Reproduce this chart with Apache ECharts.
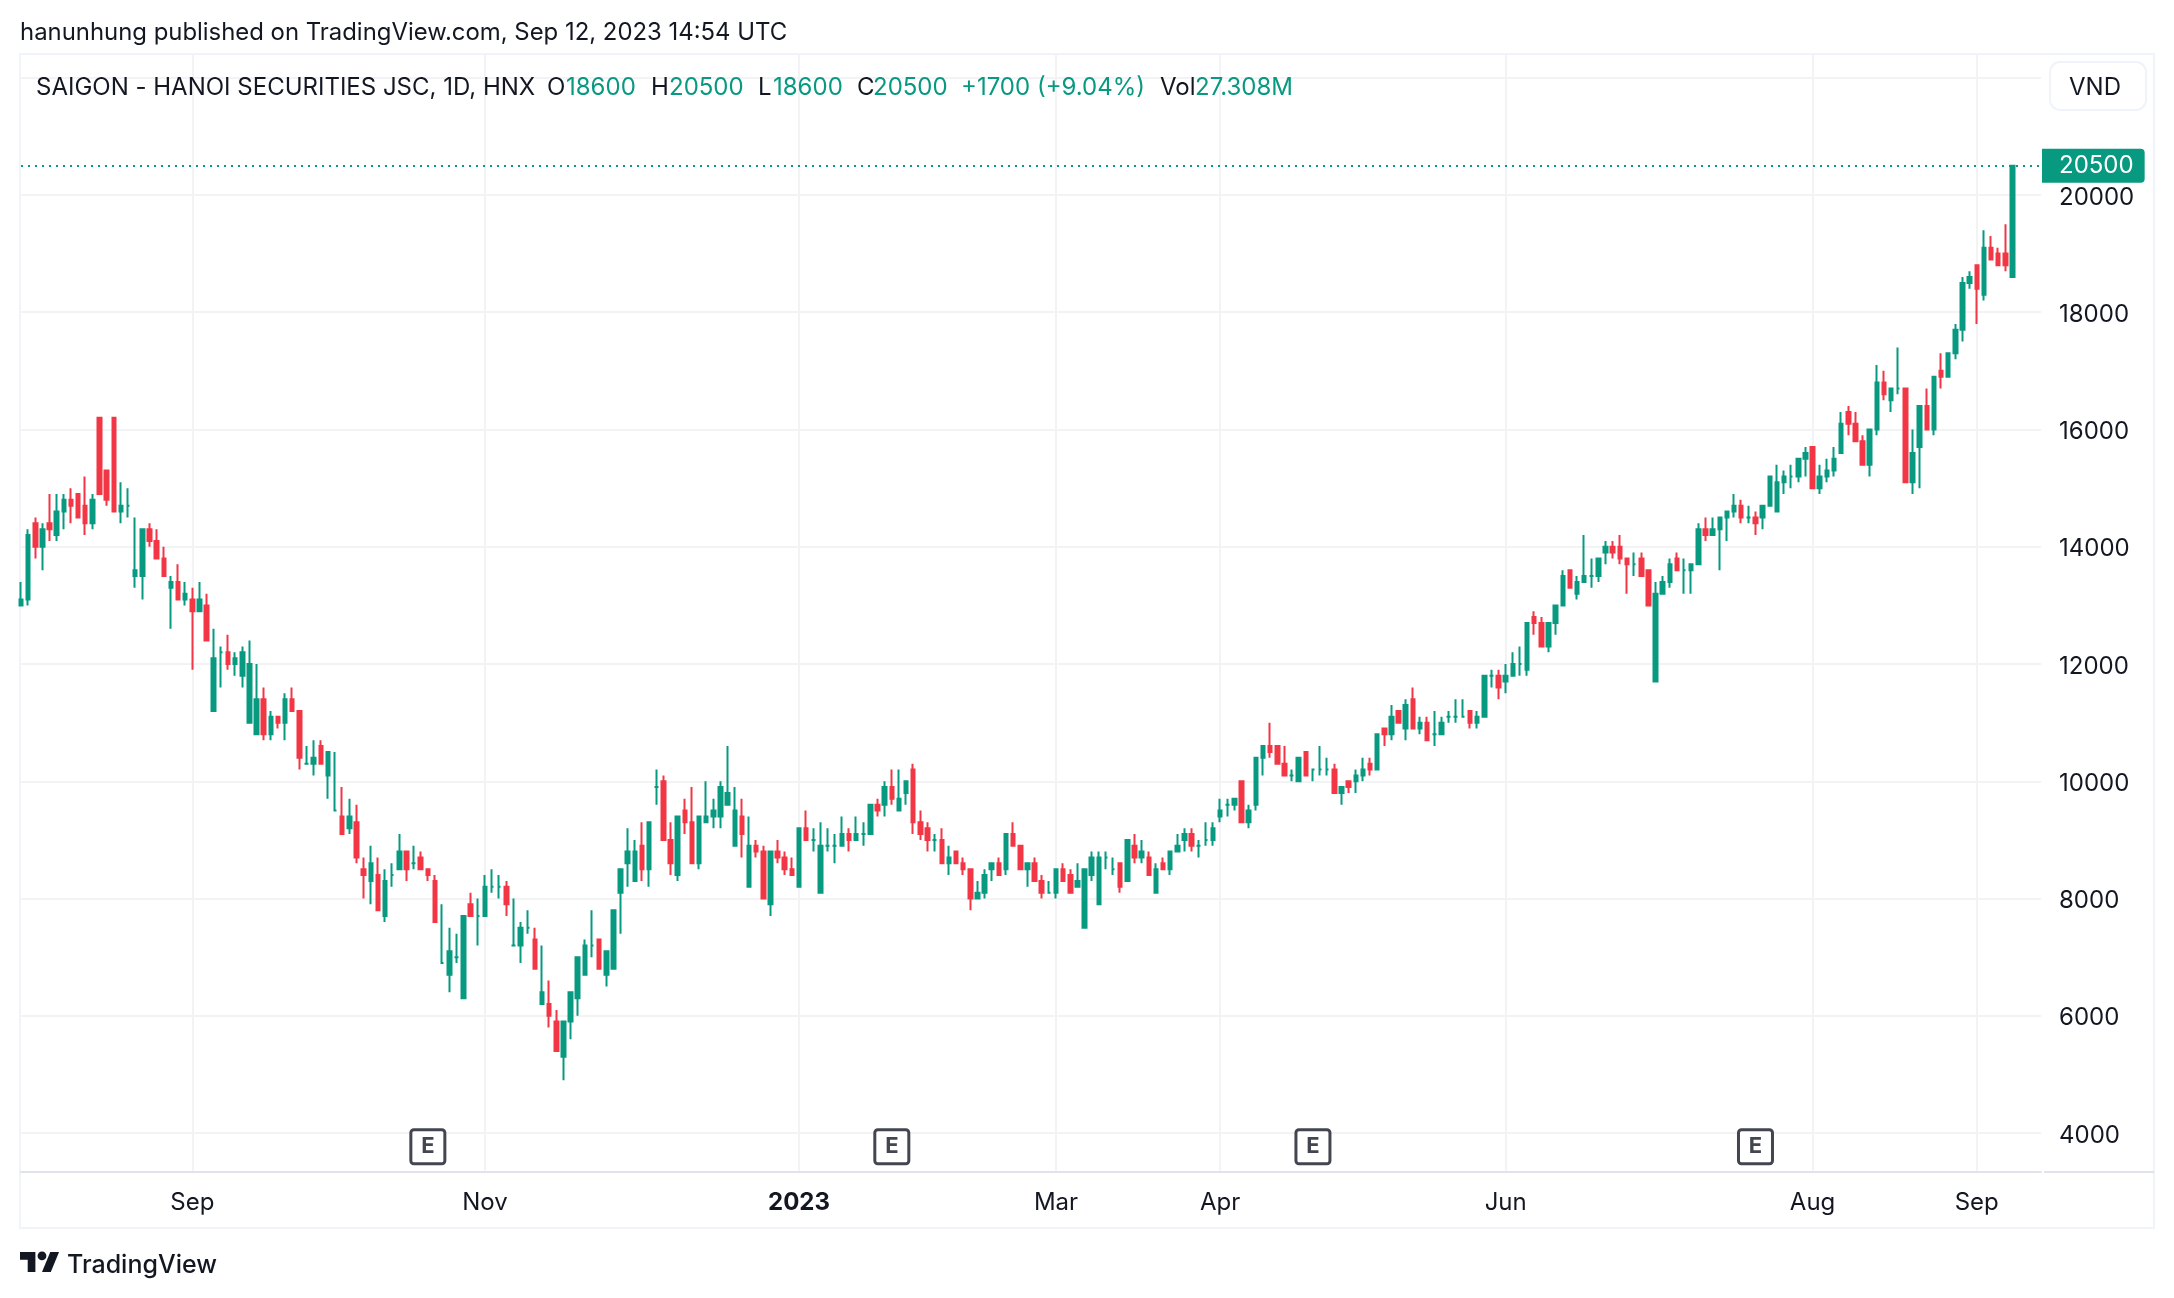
<!DOCTYPE html>
<html>
<head>
<meta charset="utf-8">
<title>SHS 1D</title>
<script src="https://cdn.jsdelivr.net/npm/echarts@6/dist/echarts.min.js"></script>
<style>
  html, body { margin: 0; padding: 0; background: #fff; }
  #chart { width: 2174px; height: 1298px; }
</style>
</head>
<body>
<div id="chart"></div>
<script>
// Prices, in hundreds of VND (one tick = 100 VND)
const opens = [
  130,131,144,140,144,142,146,148,149,147, 144,162,153,162,146,147,135,135,143,141,
  138,133,134,131,131,129,130,112,122,122, 120,118,110,108,114,108,111,110,114,112,
  103,103,106,101,95,94,92,93,85,83, 84,77,84,85,88,86,87,85,83,69,
  67,70,63,79,77,77,82,82,82,72, 72,75,73,62,62,59,53,59,63,67,
  72,73,67,68,81,86,83,89,85,99, 100,90,84,95,93,86,93,94,94,96,
  89,94,82,89,88,79,88,87,85,82, 92,90,81,89,89,89,91,90,91,91,
  96,96,99,95,98,102,93,92,90,90, 86,88,86,85,80,81,85,86,85,91,
  89,85,86,83,81,81,85,84,82,75, 84,79,87,85,86,83,89,87,87,81,
  86,85,88,90,91,89,90,90,94,96, 96,100,93,96,104,106,106,103,101,100,
  105,102,102,102,102,98,100,100,101,103, 102,109,108,112,109,114,109,110,108,108,
  111,111,111,112,110,111,118,118,117,118, 120,119,128,127,123,127,130,136,132,134,
  135,135,139,140,140,138,137,138,136,117, 132,134,138,136,136,137,143,142,143,145,
  146,147,145,145,145,147,146,151,152,152, 155,157,150,152,153,156,163,161,158,154,
  160,168,165,167,167,151,157,164,160,170, 169,173,177,185,188,183,191,190,190,186
];
const closes = [
  131,142,140,143,143,146,148,147,145,144, 148,149,148,146,147,147,136,143,141,138,
  135,134,131,132,129,131,124,121,122,120, 121,122,120,114,108,111,110,114,112,104,
  103,104,103,105,95,91,94,87,84,86, 78,83,84,88,85,86,85,84,76,69,
  71,70,77,77,77,82,82,82,79,72, 75,75,68,64,60,54,59,64,70,72,
  72,68,71,78,85,88,88,85,93,99, 90,86,94,93,86,94,94,95,99,98,
  95,91,89,88,80,88,87,85,84,92, 90,90,89,89,89,91,90,91,91,96,
  95,99,97,97,100,93,91,90,90,86, 87,86,85,80,81,84,86,84,91,89,
  85,86,83,81,81,85,83,81,83,85, 87,87,87,85,82,90,87,88,84,85,
  85,88,89,91,89,89,90,92,95,96, 97,93,95,104,106,105,103,101,101,104,
  101,102,102,102,98,99,99,101,102,102, 108,108,111,110,113,109,110,107,108,110,
  111,111,111,110,111,118,118,116,118,120, 120,127,127,123,127,130,135,133,134,135,
  135,138,140,139,138,137,137,135,130,132, 134,137,136,136,137,143,142,143,145,146,
  147,145,145,144,147,152,151,152,152,155, 156,150,152,153,155,161,161,158,154,160,
  168,166,167,167,151,156,164,160,169,169, 173,177,185,186,184,191,189,188,188,205
];
const highs = [
  134,143,145,144,149,149,149,150,149,152, 149,162,153,162,151,150,145,143,144,143,
  140,135,137,134,133,134,132,126,123,125, 122,123,124,120,116,112,111,115,116,112,
  106,107,107,105,105,99,97,96,87,89, 87,85,86,91,88,89,88,85,84,79,
  75,74,77,81,80,84,85,84,83,80, 76,78,75,72,66,61,59,64,70,73,
  78,73,71,78,85,92,90,93,93,102, 101,93,94,97,99,94,100,97,100,106,
  99,97,94,90,89,88,90,88,87,92, 95,92,93,92,91,94,92,94,93,96,
  97,100,102,102,100,103,95,93,91,92, 89,88,87,85,83,85,86,87,91,93,
  89,86,87,84,83,85,86,85,86,85, 88,88,88,87,86,90,91,90,88,86,
  87,88,91,92,92,90,93,93,97,97, 97,100,96,104,106,110,106,106,102,104,
  105,102,106,104,103,99,100,102,104,104, 108,109,113,112,114,116,111,111,112,111,
  112,114,114,112,112,118,119,119,120,122, 123,127,129,128,127,130,136,136,135,142,
  138,138,141,141,142,138,139,139,136,134, 135,138,139,138,137,144,145,145,145,146,
  149,148,147,146,147,152,154,153,154,155, 157,157,154,155,157,163,164,163,159,160,
  171,170,167,174,167,160,164,167,169,173, 173,178,186,187,188,194,193,191,195,205
];
const lows = [
  130,130,138,136,141,141,143,144,145,142, 143,149,147,146,144,145,133,131,140,138,
  135,126,131,130,119,129,124,112,116,119, 118,116,110,108,107,107,109,107,112,102,
  103,101,103,97,95,91,91,86,80,79, 78,76,82,85,83,85,85,83,76,69,
  64,69,63,77,72,77,81,80,77,72, 69,74,68,62,58,54,49,56,60,67,
  70,68,65,68,74,82,83,83,82,96, 90,84,83,91,86,85,93,92,92,96,
  89,87,82,87,80,77,86,84,84,82, 90,88,81,88,86,89,88,90,89,91,
  94,94,96,95,96,91,90,88,88,86, 84,86,84,78,80,80,83,84,84,89,
  85,82,83,80,81,80,83,81,82,75, 83,79,85,84,81,83,86,86,84,81,
  85,84,88,88,88,87,89,89,93,94, 95,93,92,95,101,104,103,101,100,100,
  101,100,101,101,98,96,98,98,100,101, 102,106,107,110,107,109,108,107,106,108,
  110,110,111,109,109,111,116,114,115,118, 118,118,125,123,122,125,130,133,131,134,
  133,134,137,138,137,132,135,135,130,117, 132,133,136,132,132,137,141,142,136,141,
  145,144,144,142,143,147,146,149,150,151, 152,150,149,151,152,156,159,158,154,152,
  159,165,163,166,151,149,150,160,159,167, 169,172,175,184,178,182,189,188,187,186
];

// Axis ticks
const monthLabels = ['Sep', 'Nov', '2023', 'Mar', 'Apr', 'Jun', 'Aug', 'Sep'];
const monthIndexes = [24, 65, 109, 145, 168, 208, 251, 274];
const priceLabels = [4000, 6000, 8000, 10000, 12000, 14000, 16000, 18000, 20000];
const priceLines = [4000, 6000, 8000, 10000, 12000, 14000, 16000, 18000, 20000, 22000];
const lastPrice = 20500;

// Earnings markers (bar index, price level the E sits at)
const earningsIndexes = [57, 122, 181, 243];
const earningsLevel = 3766;

// Empty bars on the right of the last candle
const slotCount = 284;

// Legend line pieces
const legendTexts = ['SAIGON - HANOI SECURITIES JSC, 1D, HNX', 'O', '18600', 'H', '20500', 'L', '18600', 'C', '20500', '+1700 (+9.04%)', 'Vol', '27.308M'];
const legendXs = [36, 547, 566, 651, 669, 758, 773, 857, 873, 961, 1160, 1195];
const legendIsValue = [false, false, true, false, true, false, true, false, true, true, false, true];

const UP = '#089981';
const DOWN = '#F23645';
const TEXT = '#131722';
const FRAME = '#f0f3fa';
const FONT = 'Inter, "Noto Sans", sans-serif';
const E_BOX = 'path://M3 0H31A3 3 0 0 1 34 3V31A3 3 0 0 1 31 34H3A3 3 0 0 1 0 31V3A3 3 0 0 1 3 0Z';

const categories = Array.from({ length: slotCount }, (_, i) => String(i));
const candles = opens.map((o, i) => [o * 100, closes[i] * 100, lows[i] * 100, highs[i] * 100]);

const chart = echarts.init(document.getElementById('chart'), null, { renderer: 'canvas' });

const legendItems = legendTexts.map((t, i) => ({
  type: 'text',
  z: 10,
  x: legendXs[i],
  y: 87.5,
  style: { text: t, fill: legendIsValue[i] ? UP : TEXT, font: '24px ' + FONT, verticalAlign: 'middle' }
}));

// Footer logo pieces, 1.1x the logo's own units
function logoPoints(points) {
  return points.map(p => [20 + p[0] * 1.1, 1252 + (p[1] - 4) * 1.11]);
}

chart.setOption({
  animation: false,
  backgroundColor: '#ffffff',
  grid: { left: 21, right: 133, top: 54, bottom: 126 },
  xAxis: {
    type: 'category',
    data: categories,
    boundaryGap: false,
    axisLine: { show: true, lineStyle: { color: '#e0e3eb', width: 2 } },
    axisTick: { show: false, customValues: monthIndexes },
    axisLabel: {
      customValues: monthIndexes,
      margin: 19,
      color: TEXT,
      fontFamily: 'Inter',
      fontSize: 24,
      formatter: function (value) {
        const label = monthLabels[monthIndexes.indexOf(Number(value))];
        return label === '2023' ? '{bold|' + label + '}' : label;
      },
      rich: { bold: { fontFamily: 'Inter', fontSize: 24, fontWeight: 'bold', color: TEXT } }
    },
    splitLine: { show: true, lineStyle: { color: '#f3f3f5', width: 2 } }
  },
  yAxis: {
    type: 'value',
    position: 'right',
    min: 3335,
    max: 22405,
    axisLine: { show: false },
    axisTick: { show: false, customValues: priceLines },
    axisLabel: {
      customValues: priceLabels,
      margin: 18,
      verticalAlign: 'top',
      lineHeight: 5, // sits the digits slightly under their grid line, as in the picture
      color: TEXT,
      fontFamily: 'Inter',
      fontSize: 24,
      formatter: value => String(value)
    },
    splitLine: { show: true, lineStyle: { color: '#f3f3f5', width: 2 } }
  },
  series: [
    {
      type: 'candlestick',
      data: candles,
      barWidth: 4,
      itemStyle: {
        color: UP,
        color0: DOWN,
        borderColor: UP,
        borderColor0: DOWN,
        borderColorDoji: UP,
        borderWidth: 2
      },
      markLine: {
        silent: true,
        symbol: 'none',
        lineStyle: { color: UP, type: [2, 5], width: 2 },
        label: {
          position: 'end',
          distance: 1,
          formatter: String(lastPrice),
          color: '#ffffff',
          backgroundColor: UP,
          fontFamily: 'Inter',
          fontSize: 24,
          lineHeight: 24,
          padding: [7, 11, 3, 17],
          borderRadius: [0, 4, 4, 0]
        },
        data: [{ yAxis: lastPrice }]
      }
    },
    {
      type: 'scatter',
      data: earningsIndexes.map(i => [i, earningsLevel]),
      symbol: E_BOX,
      symbolSize: 34,
      z: 5,
      itemStyle: { color: '#ffffff', borderColor: '#434651', borderWidth: 3, opacity: 1 },
      label: {
        show: true,
        position: 'inside',
        formatter: 'E',
        color: '#434651',
        fontFamily: 'Inter',
        fontWeight: 'bold',
        fontSize: 22
      }
    }
  ],
  graphic: [
    // outer frame
    { type: 'rect', silent: true, z: -1, shape: { x: 20, y: 54, width: 2134, height: 1174 }, style: { fill: 'none', stroke: FRAME, lineWidth: 2 } },
    // bottom line under the price scale
    { type: 'line', silent: true, shape: { x1: 2044, y1: 1172, x2: 2154, y2: 1172 }, style: { stroke: '#e0e3eb', lineWidth: 2 } },
    // header
    { type: 'text', x: 20, y: 33, style: { text: 'hanunhung published on TradingView.com, Sep 12, 2023 14:54 UTC', fill: TEXT, font: '23.9px ' + FONT, verticalAlign: 'middle' } },
    ...legendItems,
    // currency button
    { type: 'rect', silent: true, shape: { x: 2050, y: 62, width: 96, height: 48, r: 10 }, style: { fill: '#ffffff', stroke: FRAME, lineWidth: 2 } },
    { type: 'text', x: 2069, y: 87.5, style: { text: 'VND', fill: TEXT, font: '24px ' + FONT, verticalAlign: 'middle' } },
    // footer logo
    { type: 'polygon', silent: true, shape: { points: logoPoints([[14, 22], [7, 22], [7, 11], [0, 11], [0, 4], [14, 4]]) }, style: { fill: TEXT } },
    { type: 'polygon', silent: true, shape: { points: logoPoints([[28, 22], [20, 22], [27.5, 4], [35.5, 4]]) }, style: { fill: TEXT } },
    { type: 'circle', silent: true, shape: { cx: 20 + 20 * 1.1, cy: 1252 + 3.5 * 1.11, r: 4.4 }, style: { fill: TEXT } },
    { type: 'text', x: 67, y: 1265, style: { text: 'TradingView', fill: TEXT, font: '500 25px ' + FONT, verticalAlign: 'middle' } }
  ]
});
</script>
</body>
</html>
